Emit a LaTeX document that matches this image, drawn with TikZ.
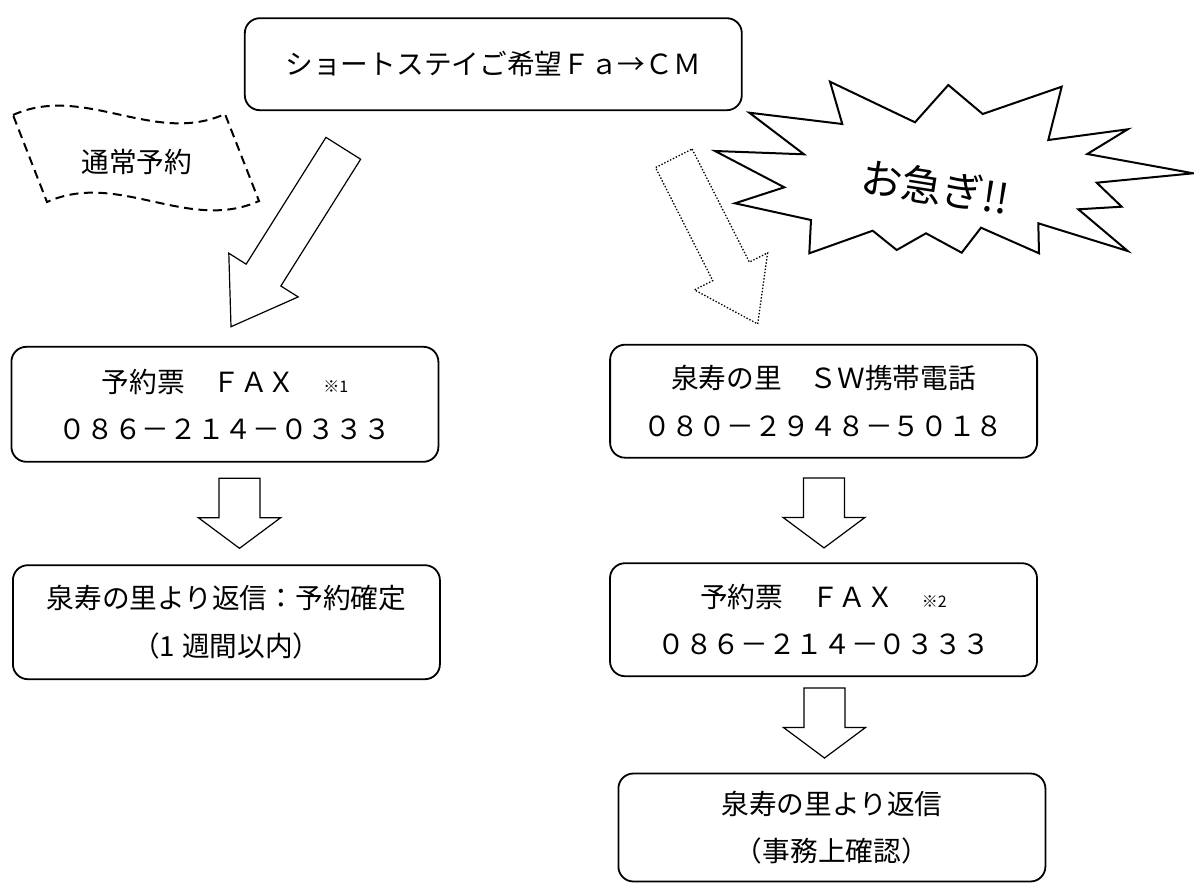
\documentclass[tikz,border=0pt]{standalone}
\usepackage{fontspec}
\setmainfont{Noto Sans CJK JP}
\usetikzlibrary{calc}

\tikzset{
	flowbox/.style={draw, line width=1.8pt, rounded corners=15pt, minimum width=427pt,
		inner sep=0pt, align=center, font=\fontsize{27.7}{47.5}\selectfont},
	bigarrow/.style={draw, line width=1.2pt, line join=miter, fill=white},
	tagline/.style={draw, line width=2pt, dash pattern=on 9pt off 5.5pt},
	burst/.style={draw, line width=2pt, line join=miter, fill=white},
}
\newcommand{\note}[1]{{\fontsize{16}{16}\selectfont #1}}
% block arrow from #2 to #3, head length #4
\newcommand{\blockarrow}[4][]{%
	\coordinate (hb) at ($(#3)!#4!(#2)$);
	\draw[bigarrow,#1] ($(#2)!20.5pt!90:(#3)$) -- ($(hb)!20.5pt!90:(#3)$) -- ($(hb)!41pt!90:(#3)$)
		-- (#3) -- ($(hb)!41pt!-90:(#3)$) -- ($(hb)!20.5pt!-90:(#3)$) -- ($(#2)!20.5pt!-90:(#3)$) -- cycle;
}

\begin{document}
\begin{tikzpicture}[x=1pt, y=-1pt]
	\useasboundingbox (0,0) rectangle (1194,889);
	% boxes
	\node[flowbox, minimum width=497pt, minimum height=92pt] (request) at (493.3,64.2) {ショートステイご希望Ｆａ→ＣＭ};
	\node[flowbox, minimum height=115pt] (fax1) at (224.9,404.3) {予約票　ＦＡＸ　\note{※1}\\０８６－２１４－０３３３};
	\node[flowbox, minimum height=114pt] (reply1) at (226.4,622.2) {泉寿の里より返信：予約確定\\（1\hspace{7pt}週間以内）};
	\node[flowbox, minimum height=113pt] (phone) at (823.6,401.2) {泉寿の里　ＳＷ携帯電話\\０８０－２９４８－５０１８};
	\node[flowbox, minimum height=113pt] (fax2) at (823.5,619.7) {予約票　ＦＡＸ　\note{※2}\\０８６－２１４－０３３３};
	\node[flowbox, minimum height=108pt] (reply2) at (831.9,827.5) {泉寿の里より返信\\（事務上確認）};

	% normal route
	\draw[tagline] (13,115) .. controls (84,83) and (154,146) .. (225,114) -- (259,201)
		.. controls (188,233) and (118,170) .. (47,202) -- cycle;
	\node[font=\fontsize{27.7}{30}\selectfont] (normal) at (136.7,161.7) {通常予約};
	\coordinate (normaltail) at (343.3,148.3);
	\coordinate (normaltip) at (231,326.7);
	\blockarrow{normaltail}{normaltip}{61pt}

	% urgent route
	\draw[burst] (715,151) -- (804,154.3) -- (749.3,112.7) -- (842.3,124) -- (830,81.7) -- (915,122.3)
		-- (948.3,85) -- (982.7,114) -- (1061.7,86.7) -- (1048.3,140) -- (1127.7,129.3) -- (1087.3,154)
		-- (1193.3,173.3) -- (1096.7,182.7) -- (1121.7,206.7) -- (1078.3,209.3) -- (1127.7,251)
		-- (1038.3,223.3) -- (1039,253.3) -- (981,227.7) -- (961.7,252.7) -- (926,233.3) -- (896.7,250)
		-- (872.7,230.7) -- (809.3,253.3) -- (811,220) -- (735,203.3) -- (784.3,187.3) -- cycle;
	\node[rotate=-9, font=\fontsize{41}{41}\selectfont] (hurry) at (935.7,187) {お急ぎ!!};
	\coordinate (urgenttail) at (673.8,158.3);
	\coordinate (urgenttip) at (757.7,324);
	\blockarrow[line width=1.3pt, dash pattern=on 1.4pt off 1.8pt]{urgenttail}{urgenttip}{59pt}

	% down arrows
	\foreach \from/\dx/\gap in {fax1/14.6/15.6, phone/0.4/19.3, fax2/1/10.9}{
		\coordinate (s) at ($(\from.south)+(\dx,\gap)$);
		\coordinate (e) at ($(s)+(0,70)$);
		\blockarrow{s}{e}{30.5pt}
	}
\end{tikzpicture}
\end{document}
